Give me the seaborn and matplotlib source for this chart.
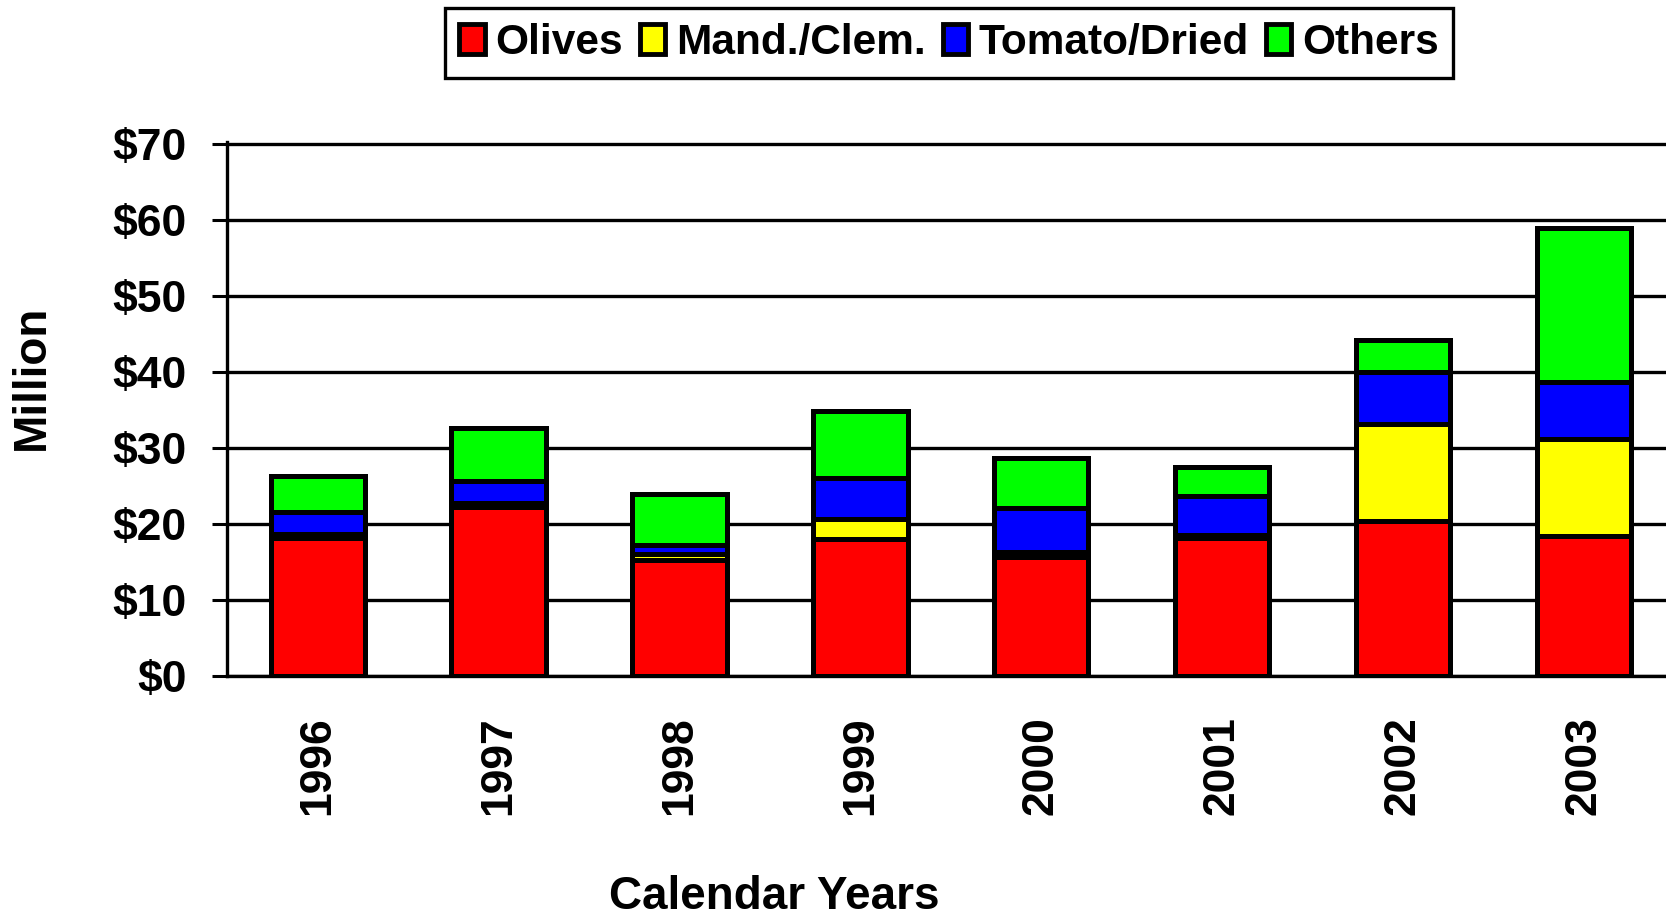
import numpy as np
import pandas as pd
import matplotlib
matplotlib.use('Agg')
import matplotlib.pyplot as plt
import seaborn as sns
from matplotlib.patches import Patch

# values, $ million
years = ['1996', '1997', '1998', '1999', '2000', '2001', '2002', '2003']
olives = [18.2, 22.2, 15.2, 18.0, 15.6, 18.2, 20.4, 18.4]
mand_clem = [0.5, 0.5, 0.8, 2.7, 0.7, 0.4, 12.7, 12.7]
tomato_dried = [2.8, 3.0, 1.2, 5.3, 5.8, 5.1, 6.9, 7.5]
others = [4.8, 6.9, 6.7, 8.8, 6.5, 3.8, 4.2, 20.3]

series_names = ['Olives', 'Mand./Clem.', 'Tomato/Dried', 'Others']
series_colors = ['#FF0000', '#FFFF00', '#0000FF', '#00FF00']

df = pd.DataFrame({'year': years, 'Olives': olives, 'Mand./Clem.': mand_clem,
                   'Tomato/Dried': tomato_dried, 'Others': others})
# cumulative tops so the stack can be drawn back to front
cum = df[series_names].cumsum(axis=1)
for name in series_names:
    df['top_' + name] = cum[name]

sns.set_style('white')
plt.rcParams['font.family'] = ['Liberation Sans', 'DejaVu Sans']
plt.rcParams['font.weight'] = 'bold'
for key in ['text.color', 'axes.labelcolor', 'xtick.color', 'ytick.color']:
    plt.rcParams[key] = 'black'

fig = plt.figure(figsize=(16.66, 9.18), dpi=100)
ax = fig.add_axes([0.1363, 0.2636, 0.869, 0.5817])

for name, color in reversed(list(zip(series_names, series_colors))):
    sns.barplot(data=df, x='year', y='top_' + name, color=color, saturation=1,
                width=0.52, edgecolor='black', linewidth=3.6, errorbar=None, ax=ax)

ax.set_ylim(0, 70.2)
ax.set_xlim(-0.5, 7.5)
ax.set_yticks(np.arange(0, 71, 10))
ax.set_yticklabels([f'${v}' for v in range(0, 71, 10)])
ax.yaxis.grid(True, color='black', linewidth=2.4)
ax.set_axisbelow(True)

for side in ['top', 'right']:
    ax.spines[side].set_visible(False)
for side in ['left', 'bottom']:
    ax.spines[side].set_linewidth(2.4)
    ax.spines[side].set_color('black')

ax.set_xticks(np.arange(-0.5, 8, 1), minor=True)
ax.tick_params(axis='x', which='major', length=0, pad=29, labelsize=32, labelrotation=90)
ax.tick_params(axis='x', which='minor', length=11, width=2.2, color='black', direction='out')
ax.tick_params(axis='y', which='major', left=True, length=11, width=2.2, color='black',
               direction='out', pad=18, labelsize=32)

ax.set_xlabel('Calendar Years', fontsize=33, fontweight='bold', va='center')
ax.xaxis.set_label_coords(0.378, -0.414)
ax.set_ylabel('Million', fontsize=33, fontweight='bold', va='center')
ax.yaxis.set_label_coords(-0.135, 0.56)

handles = [Patch(facecolor=c, edgecolor='black', linewidth=3.5) for c in series_colors]
leg = fig.legend(handles, series_names, loc='upper center', bbox_to_anchor=(949 / 1666, 0.991),
                 ncol=4, frameon=True, fancybox=False, framealpha=1, borderaxespad=0,
                 edgecolor='black', handlelength=0.6, handleheight=0.7,
                 handletextpad=0.25, columnspacing=0.4, borderpad=0.35,
                 prop={'weight': 'bold', 'size': 30.5})
leg.get_frame().set_linewidth(2.4)

fig.savefig('out.png', dpi=100)
